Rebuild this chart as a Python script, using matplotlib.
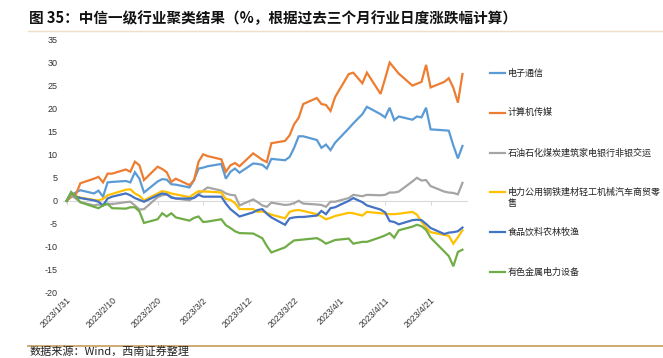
import matplotlib
matplotlib.use('Agg')
import matplotlib.pyplot as plt
import matplotlib.dates as mdates
from matplotlib.lines import Line2D
import pandas as pd

plt.rcParams['font.family'] = ['Liberation Sans', 'Noto Sans CJK SC', 'DejaVu Sans']
plt.rcParams['axes.unicode_minus'] = False
CJK = ['Noto Sans CJK SC', 'DejaVu Sans']

dates = ['2023-01-31',
         '2023-02-01', '2023-02-02', '2023-02-03', '2023-02-06', '2023-02-07',
         '2023-02-08', '2023-02-09', '2023-02-10', '2023-02-13', '2023-02-14',
         '2023-02-15', '2023-02-16', '2023-02-17', '2023-02-20', '2023-02-21',
         '2023-02-22', '2023-02-23', '2023-02-24', '2023-02-27', '2023-02-28',
         '2023-03-01', '2023-03-02', '2023-03-03', '2023-03-06', '2023-03-07',
         '2023-03-08', '2023-03-09', '2023-03-10', '2023-03-13', '2023-03-14',
         '2023-03-15', '2023-03-16', '2023-03-17', '2023-03-20', '2023-03-21',
         '2023-03-22', '2023-03-23', '2023-03-24', '2023-03-27', '2023-03-28',
         '2023-03-29', '2023-03-30', '2023-03-31', '2023-04-03', '2023-04-04',
         '2023-04-06', '2023-04-07', '2023-04-10', '2023-04-11', '2023-04-12',
         '2023-04-13', '2023-04-14', '2023-04-17', '2023-04-18', '2023-04-19',
         '2023-04-20', '2023-04-21', '2023-04-24', '2023-04-25', '2023-04-26',
         '2023-04-27', '2023-04-28']

dianzi = [0, 1.2, 1.8, 2.3, 1.6, 2.2, 0.9, 4.0, 4.1, 4.3, 4.0, 6.2, 4.8, 1.8,
          4.2, 4.7, 4.6, 3.6, 3.5, 2.9, 4.5, 7.0, 7.2, 7.5, 8.0, 4.8, 6.3, 7.0,
          6.1, 8.1, 8.0, 7.8, 7.0, 9.1, 8.8, 9.5, 11.5, 14.0, 14.0, 13.2, 11.5,
          12.2, 11.0, 12.6, 15.7, 16.8, 18.8, 20.4, 18.8, 18.1, 20.2, 17.5,
          18.3, 17.6, 18.3, 18.1, 20.2, 15.5, 15.3, 15.2, 12.0, 9.2, 11.9]
jisuanji = [0, 0.8, 1.3, 3.8, 4.8, 5.2, 4.0, 5.9, 5.9, 6.8, 6.3, 8.5, 7.7, 4.5,
            7.4, 6.9, 6.2, 4.1, 4.8, 3.4, 4.5, 8.5, 10.1, 9.7, 9.0, 6.3, 7.7,
            8.2, 7.5, 10.3, 9.6, 8.9, 8.4, 12.5, 13.0, 14.2, 16.6, 18.0, 21.0,
            22.3, 21.0, 20.8, 19.5, 22.5, 27.5, 27.8, 25.5, 27.8, 23.2, 26.5,
            30.0, 28.8, 27.6, 25.0, 25.4, 25.8, 29.5, 24.6, 25.8, 26.6, 24.5,
            21.3, 27.5]
shiyou = [0, 1.2, 0.5, -0.3, -1.0, -0.8, -0.9, -0.6, -0.7, -0.3, -0.2, -1.0,
          -1.9, -1.8, 0.8, 1.2, 1.4, 0.9, 0.5, 0.1, 0.8, 1.5, 2.2, 2.9, 2.2,
          1.6, 1.3, 1.2, -1.0, 0.3, -0.3, -1.0, -1.3, -0.4, -0.9, -0.8, -0.5,
          0.0, -0.6, -0.8, -0.9, -1.3, -0.2, -0.2, 0.6, 1.3, 1.0, 1.3, 1.2, 1.3,
          1.8, 1.8, 2.0, 4.2, 5.0, 4.4, 4.5, 3.2, 2.0, 1.8, 1.7, 1.4, 3.9]
dianli = [0, 1.7, 1.0, 0.7, 0.2, 0.1, 0.4, 1.2, 1.5, 2.4, 2.5, 1.6, 1.1, 0.1,
          1.6, 2.1, 1.9, 1.6, 1.4, 0.8, 1.5, 2.1, 2.0, 2.0, 1.8, 0.4, 0.2, -0.5,
          -1.8, -1.8, -2.4, -2.3, -2.6, -3.0, -3.8, -2.4, -2.1, -2.0, -2.2, -2.9,
          -3.4, -4.0, -3.7, -3.3, -2.6, -2.7, -3.2, -2.4, -2.7, -2.8, -2.9, -2.9,
          -2.8, -2.4, -3.0, -4.5, -5.8, -6.8, -7.4, -7.6, -9.3, -7.9, -6.4]
shipin = [0, 1.8, 0.9, 0.6, 0.1, -0.2, -1.0, 0.5, 0.9, 1.6, 1.2, 0.6, 0.2,
          -0.2, 1.2, 1.6, 1.4, 0.7, 0.5, 0.5, 0.6, 1.3, 0.9, 0.9, 0.9, -0.6,
          -1.8, -2.6, -3.4, -2.5, -2.0, -1.8, -2.8, -3.6, -5.2, -3.8, -3.6, -3.5,
          -3.5, -3.2, -2.2, -2.9, -1.6, -1.4, 0.0, 0.6, -0.3, -1.0, -1.9, -2.5,
          -4.4, -4.6, -5.1, -4.2, -4.1, -4.2, -5.0, -5.9, -7.2, -6.9, -6.8, -6.6,
          -5.8]
youse = [0, 1.9, 0.9, -0.3, -1.3, -1.6, -1.0, -0.7, -1.6, -1.7, -1.4, -1.4,
         -2.3, -4.8, -4.0, -2.7, -3.4, -2.7, -3.6, -4.3, -3.7, -3.4, -4.6, -4.5,
         -4.0, -5.3, -5.9, -6.6, -7.0, -7.1, -7.6, -8.1, -9.8, -11.2, -10.1,
         -9.3, -8.6, -8.5, -8.4, -8.1, -8.6, -9.3, -8.9, -8.5, -8.2, -9.3, -8.9,
         -8.9, -7.9, -7.5, -7.0, -8.0, -6.4, -5.6, -5.2, -5.5, -6.3, -8.0, -11.0,
         -12.0, -14.2, -11.1, -10.6]

names = ['电子通信', '计算机传媒', '石油石化煤炭建筑家电银行非银交运',
         '电力公用钢铁建材轻工机械汽车商贸零\n售', '食品饮料农林牧渔', '有色金属电力设备']
colors = ['#5B9BD5', '#ED7D31', '#A5A5A5', '#FFC000', '#4472C4', '#70AD47']
series = [dianzi, jisuanji, shiyou, dianli, shipin, youse]

tick_dates = ['2023-01-31', '2023-02-10', '2023-02-20', '2023-03-02', '2023-03-12',
              '2023-03-22', '2023-04-01', '2023-04-11', '2023-04-21']
tick_labels = ['2023/1/31', '2023/2/10', '2023/2/20', '2023/3/2', '2023/3/12',
               '2023/3/22', '2023/4/1', '2023/4/11', '2023/4/21']

x = mdates.date2num(pd.to_datetime(dates))
xt = mdates.date2num(pd.to_datetime(tick_dates))

W, H = 663, 358
fig = plt.figure(figsize=(W / 100, H / 100), dpi=100)
ax = fig.add_axes([63 / W, (H - 293) / H, (467 - 63) / W, (293 - 39.5) / H])

for vals, c in zip(series, colors):
    ax.plot(x, vals, color=c, lw=1.6, solid_joinstyle='miter')

ax.set_xlim(x[0] - 0.8, x[-1] + 1.0)
ax.set_ylim(-20, 35)
ax.set_yticks(range(-20, 36, 5))
ax.tick_params(axis='y', length=0, pad=4, labelsize=6.5, labelcolor='#333333')

for s in ['top', 'right', 'left']:
    ax.spines[s].set_visible(False)
ax.spines['bottom'].set_position(('data', 0))
ax.spines['bottom'].set_color('#D9D9D9')
ax.spines['bottom'].set_linewidth(0.8)
ax.spines['bottom'].set_zorder(0)
ax.set_xticks(xt)
ax.tick_params(axis='x', direction='out', length=3, color='#D9D9D9',
               labelbottom=False)

sec = ax.secondary_xaxis('bottom')
sec.set_xticks(xt)
sec.set_xticklabels(tick_labels, rotation=45, ha='right', va='top',
                    rotation_mode='anchor', fontsize=6.3, color='#333333')
sec.tick_params(length=0, pad=2)
sec.spines['bottom'].set_visible(False)

# 图例
for i, (name, c) in enumerate(zip(names, colors)):
    yp = 1 - (73 + 39.8 * i) / H
    fig.add_artist(Line2D([490 / W, 505 / W], [yp, yp], color=c, lw=1.6))
    fig.text(508 / W, yp + 4.5 / H, name, va='top', ha='left', fontsize=6.5,
             family=CJK, color='#222222', linespacing=1.25)

fig.text(29 / W, 1 - 18 / H, '图 35：中信一级行业聚类结果（%，根据过去三个月行业日度涨跌幅计算）',
         fontsize=10.5, fontweight='bold', va='center', ha='left', family=CJK,
         color='#111111')
fig.add_artist(Line2D([28 / W, 1], [1 - 31 / H, 1 - 31 / H], color='#EEDFC8', lw=1))
fig.add_artist(Line2D([28 / W, 1], [12 / H, 12 / H], color='#C9A56A', lw=1.3))
fig.text(30 / W, 1 / H, '数据来源：Wind，西南证券整理', fontsize=8,
         style='italic', va='bottom', ha='left', family=CJK, color='#222222')

fig.savefig('out.png', dpi=100)
